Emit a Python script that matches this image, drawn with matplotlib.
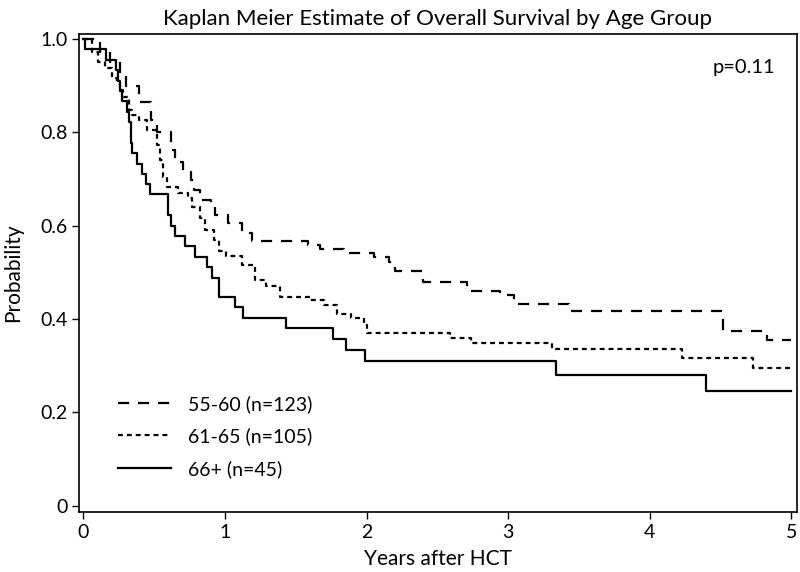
import numpy as np
import matplotlib.pyplot as plt

plt.rcParams['font.family'] = ['Lato', 'DejaVu Sans']

# Kaplan-Meier step points (time in years, survival after the step)
t_5560 = [0, 0.12, 0.19, 0.26, 0.30, 0.39, 0.48, 0.52, 0.62, 0.65, 0.70, 0.76, 0.78, 0.82, 0.90,
          0.93, 1.02, 1.12, 1.19, 1.59, 1.67, 1.84, 2.05, 2.16, 2.20, 2.40, 2.71, 2.94, 3.04,
          3.43, 4.52, 4.83, 5.0]
s_5560 = [1.0, 0.973, 0.95, 0.93, 0.90, 0.866, 0.826, 0.80, 0.762, 0.737, 0.716, 0.698, 0.677,
          0.655, 0.645, 0.623, 0.605, 0.584, 0.568, 0.559, 0.55, 0.542, 0.534, 0.523, 0.504,
          0.48, 0.461, 0.452, 0.432, 0.418, 0.375, 0.355, 0.355]

t_6165 = [0, 0.06, 0.10, 0.15, 0.20, 0.24, 0.26, 0.28, 0.32, 0.34, 0.39, 0.45, 0.52, 0.54,
          0.56, 0.59, 0.67, 0.74, 0.77, 0.82, 0.86, 0.92, 0.96, 1.01, 1.12, 1.21, 1.29, 1.39,
          1.60, 1.70, 1.79, 1.89, 1.98, 2.0, 2.59, 2.74, 3.31, 4.23, 4.73, 5.0]
s_6165 = [1.0, 0.973, 0.951, 0.937, 0.916, 0.905, 0.89, 0.876, 0.848, 0.837, 0.826, 0.805,
          0.773, 0.741, 0.705, 0.684, 0.67, 0.659, 0.641, 0.616, 0.591, 0.57, 0.545, 0.535,
          0.516, 0.484, 0.47, 0.448, 0.44, 0.43, 0.41, 0.402, 0.388, 0.37, 0.359, 0.348,
          0.336, 0.316, 0.296, 0.296]

t_66 = [0, 0.01, 0.16, 0.23, 0.245, 0.26, 0.27, 0.31, 0.32, 0.335, 0.345, 0.38, 0.415, 0.44,
        0.47, 0.595, 0.62, 0.65, 0.72, 0.79, 0.875, 0.91, 0.96, 1.07, 1.13, 1.43, 1.76, 1.855,
        1.99, 3.34, 4.40, 5.0]
s_66 = [1.0, 0.978, 0.956, 0.933, 0.911, 0.889, 0.867, 0.844, 0.822, 0.778, 0.756, 0.733,
        0.711, 0.689, 0.667, 0.622, 0.60, 0.578, 0.556, 0.533, 0.511, 0.489, 0.447, 0.426,
        0.403, 0.382, 0.358, 0.334, 0.31, 0.28, 0.247, 0.247]

labels = ['55-60 (n=123)', '61-65 (n=105)', '66+ (n=45)']

fig, ax = plt.subplots(figsize=(8, 5.72), dpi=100)
fig.subplots_adjust(left=0.099, right=0.996, bottom=0.105, top=0.94)

ax.step(t_5560, s_5560, where='post', color='black', lw=1.6, linestyle=(0, (5, 4)), label=labels[0])
ax.step(t_6165, s_6165, where='post', color='black', lw=1.6, linestyle=(0, (2.2, 1.8)), label=labels[1])
ax.step(t_66, s_66, where='post', color='black', lw=1.6, linestyle='-', label=labels[2])

ax.set_xlim(-0.03, 5.04)
ax.set_ylim(-0.013, 1.01)
ax.set_xticks([0, 1, 2, 3, 4, 5])
ax.set_yticks([0, 0.2, 0.4, 0.6, 0.8, 1.0])
ax.set_yticklabels(['0', '0.2', '0.4', '0.6', '0.8', '1.0'])
ax.tick_params(labelsize=14, direction='out', length=5, width=1)
for s in ax.spines.values():
    s.set_linewidth(1.2)

ax.set_title('Kaplan Meier Estimate of Overall Survival by Age Group', fontsize=16, pad=7)
ax.set_xlabel('Years after HCT', fontsize=15, labelpad=6)
ax.set_ylabel('Probability', fontsize=15, labelpad=12)
ax.text(4.89, 0.94, 'p=0.11', fontsize=14.5, ha='right', va='center')

ax.legend(loc='lower left', bbox_to_anchor=(0.03, 0.035), frameon=False, fontsize=14,
          handlelength=2.7, labelspacing=0.75, handletextpad=0.9)

plt.savefig('out.png')
